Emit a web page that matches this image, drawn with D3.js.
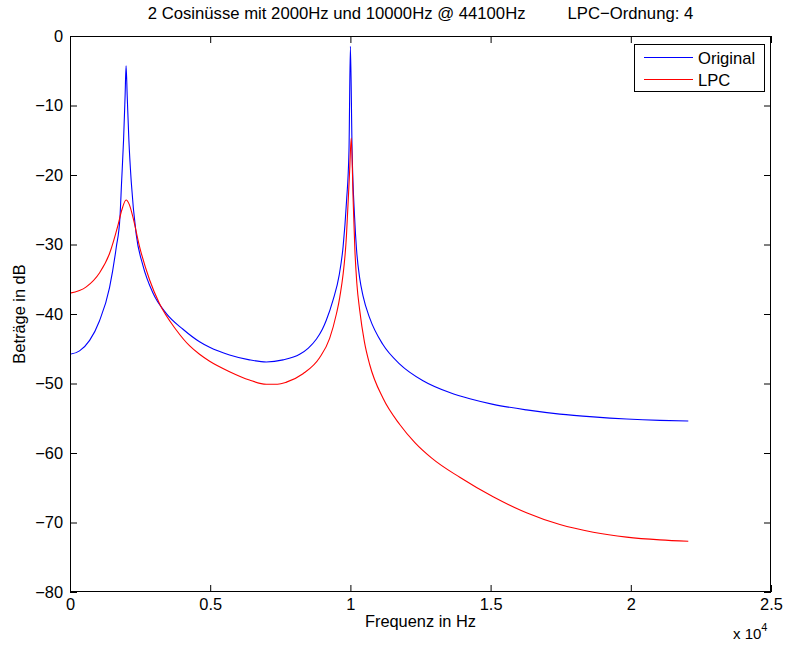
<!DOCTYPE html>
<html>
<head>
<meta charset="utf-8">
<script src="https://cdn.jsdelivr.net/npm/d3@7"></script>
<style>
  html, body { margin: 0; padding: 0; background: #fff; }
  svg { display: block; font-family: "Liberation Sans", Arial, Helvetica, sans-serif; }
</style>
</head>
<body>
<svg id="chart" width="788" height="645"></svg>
<script>
// ---- data ----
const titleLeft = "2 Cosinüsse mit 2000Hz und 10000Hz @ 44100Hz";
const titleRight = "LPC\u2212Ordnung: 4";
const xLabel = "Frequenz in Hz";
const yLabel = "Beträge in dB";
const seriesNames = ["Original", "LPC"];
const xTickValues = [0, 5000, 10000, 15000, 20000, 25000];
const xTickLabels = ["0", "0.5", "1", "1.5", "2", "2.5"];
const yTickValues = [-80, -70, -60, -50, -40, -30, -20, -10, 0];

const originalFreq = [0, 340, 700, 1050, 1410, 1650, 1780, 1840, 1910, 1965, 2000, 2040, 2100, 2185, 2360, 2600, 2950, 3430, 4030, 4620, 4980, 5690, 6400, 7000, 7600, 8190, 8500, 8790, 9000, 9140, 9380, 9600, 9740, 9860, 9950, 10000, 10060, 10150, 10220, 10330, 10450, 10690, 11160, 11760, 12590, 13540, 14260, 15090, 16280, 17470, 18660, 19850, 21040, 22050];
const originalDb   = [-45.8, -45.3, -43.8, -41.0, -36.2, -30.4, -26.2, -21.0, -15.0, -8.6, -4.3, -8.6, -15.0, -21.0, -28.5, -33.0, -36.9, -39.9, -42.2, -44.0, -44.8, -45.9, -46.6, -46.9, -46.6, -45.8, -44.9, -43.6, -42.2, -40.9, -38.0, -34.4, -30.3, -23.9, -16.4, -1.5, -16.4, -26.1, -30.8, -34.8, -37.4, -40.6, -44.4, -47.2, -49.6, -51.3, -52.2, -53.0, -53.8, -54.4, -54.8, -55.1, -55.3, -55.4];

const lpcFreq = [0, 580, 1050, 1410, 1700, 1850, 2000, 2120, 2240, 2480, 2840, 3190, 3790, 4270, 4620, 4980, 5690, 6400, 7000, 7400, 7720, 8310, 8900, 9260, 9500, 9620, 9860, 9975, 10030, 10100, 10160, 10230, 10330, 10500, 10690, 11160, 11760, 12300, 12890, 13900, 15090, 16280, 17470, 18660, 19850, 21040, 22050];
const lpcDb   = [-37.0, -36.1, -34.1, -31.3, -27.4, -25.0, -23.6, -24.3, -26.0, -30.3, -35.1, -38.5, -42.3, -44.6, -45.8, -46.8, -48.3, -49.5, -50.1, -50.1, -49.8, -48.6, -46.3, -43.5, -40.0, -37.6, -28.7, -19.2, -14.7, -23.8, -30.8, -35.6, -39.4, -44.0, -47.3, -52.1, -55.9, -58.5, -60.7, -63.5, -66.3, -68.6, -70.3, -71.4, -72.1, -72.5, -72.7];

const seriesColors = ["#0000ff", "#ff0000"];

// ---- layout ----
const svg = d3.select("#chart");
const L = 70, R = 771, T = 36, B = 592;
const FS = 16.4;
const minus = s => String(s).replace("-", "\u2212");

const x = d3.scaleLinear().domain([0, 25000]).range([L, R]);
const y = d3.scaleLinear().domain([-80, 0]).range([B, T]);

svg.append("rect").attr("x", L).attr("y", T).attr("width", R - L).attr("height", B - T).attr("fill", "#fff");

// series
const series = [
  originalFreq.map((f, i) => [f, originalDb[i]]),
  lpcFreq.map((f, i) => [f, lpcDb[i]])
];
const line = d3.line().x(d => x(d[0])).y(d => y(d[1])).curve(d3.curveMonotoneX);
svg.append("clipPath").attr("id", "clip").append("rect")
  .attr("x", L).attr("y", T).attr("width", R - L).attr("height", B - T);
svg.append("g").attr("clip-path", "url(#clip)")
  .selectAll("path").data(series).join("path")
  .attr("d", line)
  .attr("fill", "none")
  .attr("stroke", (d, i) => seriesColors[i])
  .attr("stroke-width", 1.1);

// axes (MATLAB style: ticks inward on all sides, box)
const tickLen = 7;
const xAxisB = d3.axisBottom(x).tickValues(xTickValues).tickSizeInner(-tickLen).tickSizeOuter(0)
  .tickFormat((d, i) => xTickLabels[i]).tickPadding(6);
const xAxisT = d3.axisTop(x).tickValues(xTickValues).tickSizeInner(-tickLen).tickSizeOuter(0).tickFormat("");
const yAxisL = d3.axisLeft(y).tickValues(yTickValues).tickSizeInner(-tickLen).tickSizeOuter(0)
  .tickFormat(d => minus(d)).tickPadding(7);
const yAxisR = d3.axisRight(y).tickValues(yTickValues).tickSizeInner(-tickLen).tickSizeOuter(0).tickFormat("");

function style(g) {
  g.select(".domain").remove();
  g.selectAll(".tick line").attr("stroke", "#000").attr("stroke-width", 1);
  g.selectAll(".tick text").attr("fill", "#000").attr("font-size", FS);
  g.attr("font-family", null).attr("font-size", null);
}
svg.append("g").attr("transform", `translate(0,${B})`).call(xAxisB).call(style);
svg.append("g").attr("transform", `translate(0,${T})`).call(xAxisT).call(style);
svg.append("g").attr("transform", `translate(${L},0)`).call(yAxisL).call(style);
svg.append("g").attr("transform", `translate(${R},0)`).call(yAxisR).call(style);

// box
svg.append("rect").attr("x", L + 0.5).attr("y", T + 0.5).attr("width", R - L - 1).attr("height", B - T - 1)
  .attr("fill", "none").attr("stroke", "#000").attr("stroke-width", 1);

// title
const title = svg.append("text").attr("x", (L + R) / 2).attr("y", 19)
  .attr("text-anchor", "middle").attr("font-size", 16.7).attr("fill", "#000");
title.append("tspan").text(titleLeft);
title.append("tspan").attr("dx", 42).text(titleRight);

// axis labels
svg.append("text").attr("x", (L + R) / 2).attr("y", 627).attr("text-anchor", "middle")
  .attr("font-size", FS).attr("fill", "#000").text(xLabel);
svg.append("text").attr("transform", `translate(25,${(T + B) / 2}) rotate(-90)`).attr("text-anchor", "middle")
  .attr("font-size", FS).attr("fill", "#000").text(yLabel);

// exponent
const expo = svg.append("text").attr("x", 733).attr("y", 639).attr("font-size", 15).attr("fill", "#000");
expo.append("tspan").text("x 10");
expo.append("tspan").attr("dy", -8).attr("font-size", 11).text("4");

// legend
const lg = svg.append("g");
lg.append("rect").attr("x", 634.5).attr("y", 44.5).attr("width", 130).attr("height", 47)
  .attr("fill", "#fff").attr("stroke", "#000").attr("stroke-width", 1);
seriesNames.forEach((name, i) => {
  const yy = 57.5 + i * 22;
  lg.append("line").attr("x1", 644).attr("x2", 693).attr("y1", yy).attr("y2", yy)
    .attr("stroke", seriesColors[i]).attr("stroke-width", 1.1);
  lg.append("text").attr("x", 698).attr("y", yy + 6).attr("font-size", 16.6).attr("fill", "#000").text(name);
});
</script>
</body>
</html>
